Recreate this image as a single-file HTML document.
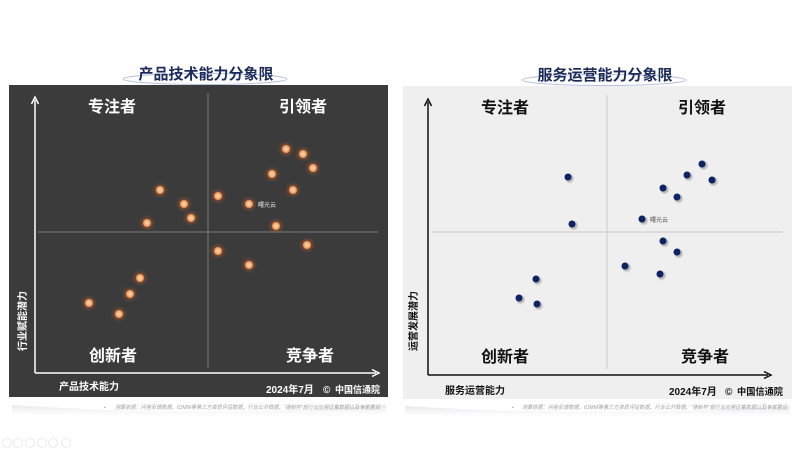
<!DOCTYPE html>
<html><head><meta charset="utf-8"><style>
html,body{margin:0;padding:0;background:#fff;}
svg{display:block;}
text{font-family:"Liberation Sans","Noto Sans CJK SC",sans-serif;}
</style></head><body>
<svg width="800" height="450" viewBox="0 0 800 450" xmlns="http://www.w3.org/2000/svg">
<defs>
<radialGradient id="og" cx="50%" cy="50%" r="50%">
<stop offset="0%" stop-color="#fde0c4"/>
<stop offset="60%" stop-color="#f6b07a"/>
<stop offset="100%" stop-color="#e8884a"/>
</radialGradient>
<filter id="blur" x="-1" y="-1" width="3" height="3"><feGaussianBlur stdDeviation="1.5"/></filter>
<filter id="blur2" x="-1" y="-1" width="3" height="3"><feGaussianBlur stdDeviation="0.9"/></filter>
<linearGradient id="sh" x1="0" y1="0" x2="0" y2="1">
<stop offset="0%" stop-color="#e6e6ea"/>
<stop offset="100%" stop-color="#ffffff" stop-opacity="0"/>
</linearGradient>
<g id="odot"><circle r="5.8" fill="#c8602a" opacity="0.5" filter="url(#blur)"/><circle r="4" fill="url(#og)"/></g>
<g id="ndot"><circle cx="1.5" cy="1.5" r="4" fill="#8a8a8a" opacity="0.6" filter="url(#blur2)"/><circle r="3.5" fill="#0e2361"/></g>
</defs>

<!-- shadows under panels -->
<path d="M12 405 Q200 418 386 405 L386 414 Q200 424 12 414Z" fill="url(#sh)"/>
<path d="M405 406 Q600 418 790 406 L790 415 Q600 424 405 415Z" fill="url(#sh)"/>

<!-- LEFT TITLE -->
<ellipse cx="205" cy="79" rx="82" ry="5.5" fill="none" stroke="#b4c2de" stroke-width="1"/>
<text x="206" y="79" font-size="15" font-weight="bold" fill="#1c2b5a" text-anchor="middle">产品技术能力分象限</text>

<!-- LEFT PANEL -->
<rect x="9" y="85" width="379" height="312" fill="#3b3b3b"/>
<line x1="208" y1="93" x2="208" y2="368" stroke="#7a7a7a" stroke-width="1"/>
<line x1="38" y1="232" x2="378" y2="232" stroke="#7a7a7a" stroke-width="1"/>
<line x1="35" y1="373" x2="35" y2="100" stroke="#fff" stroke-width="1.5"/>
<path d="M31.5 104 L35 97 L38.5 104" fill="none" stroke="#fff" stroke-width="1.5"/>
<line x1="35" y1="373" x2="376" y2="373" stroke="#fff" stroke-width="1.5"/>
<path d="M372 369.5 L379 373 L372 376.5" fill="none" stroke="#fff" stroke-width="1.5"/>
<g font-size="16" font-weight="bold" fill="#fff" text-anchor="middle">
<text x="112" y="112">专注者</text>
<text x="303" y="112">引领者</text>
<text x="113" y="361">创新者</text>
<text x="310" y="361">竞争者</text>
</g>
<text transform="translate(26,321) rotate(-90)" font-size="10" font-weight="bold" fill="#fff" text-anchor="middle">行业赋能潜力</text>
<text x="59" y="390" font-size="10" font-weight="bold" fill="#fff">产品技术能力</text>
<text x="266" y="393" font-size="10" font-weight="bold" fill="#fff">2024年7月</text>
<text x="323" y="393" font-size="10" font-weight="bold" fill="#fff">©</text>
<text x="335" y="393" font-size="9.5" font-weight="bold" fill="#fff" textLength="45" lengthAdjust="spacingAndGlyphs">中国信通院</text>

<use href="#odot" x="286" y="149"/>
<use href="#odot" x="303" y="154"/>
<use href="#odot" x="313" y="168"/>
<use href="#odot" x="272" y="174"/>
<use href="#odot" x="293" y="190"/>
<use href="#odot" x="160" y="190"/>
<use href="#odot" x="184" y="204"/>
<use href="#odot" x="191" y="218"/>
<use href="#odot" x="147" y="223"/>
<use href="#odot" x="218" y="196"/>
<use href="#odot" x="249" y="204"/>
<use href="#odot" x="276" y="226"/>
<use href="#odot" x="307" y="245"/>
<use href="#odot" x="218" y="251"/>
<use href="#odot" x="249" y="265"/>
<use href="#odot" x="140" y="278"/>
<use href="#odot" x="130" y="294"/>
<use href="#odot" x="89" y="303"/>
<use href="#odot" x="119" y="314"/>
<text x="258" y="207" font-size="6" fill="#e8e8e8">曙光云</text>

<text x="104" y="409" font-size="5" fill="#999">•</text>
<text x="115" y="409" font-size="5.5" font-style="italic" fill="#a0a0a0" textLength="265" lengthAdjust="spacingAndGlyphs">测算依据：问卷反馈数据、IOMM等第三方资质评估数据、行业公开数据、“德新杯”部行业应用征集数据以及专家意见</text>

<!-- RIGHT TITLE -->
<ellipse cx="604" cy="80" rx="82" ry="5.5" fill="none" stroke="#b4c2de" stroke-width="1"/>
<text x="605" y="80" font-size="15" font-weight="bold" fill="#1c2b5a" text-anchor="middle">服务运营能力分象限</text>

<!-- RIGHT PANEL -->
<rect x="403" y="86" width="389" height="313" fill="#efefef"/>
<line x1="607" y1="95" x2="607" y2="369" stroke="#c8c8c8" stroke-width="1"/>
<line x1="432" y1="232" x2="783" y2="232" stroke="#c8c8c8" stroke-width="1"/>
<line x1="428" y1="375" x2="428" y2="102" stroke="#111" stroke-width="1.5"/>
<path d="M424.5 106 L428 99 L431.5 106" fill="none" stroke="#111" stroke-width="1.5"/>
<line x1="428" y1="375" x2="768" y2="375" stroke="#111" stroke-width="1.5"/>
<path d="M764 371.5 L771 375 L764 378.5" fill="none" stroke="#111" stroke-width="1.5"/>
<g font-size="16" font-weight="bold" fill="#111" text-anchor="middle">
<text x="505" y="113">专注者</text>
<text x="702" y="113">引领者</text>
<text x="505" y="362">创新者</text>
<text x="705" y="362">竞争者</text>
</g>
<text transform="translate(417,321) rotate(-90)" font-size="10" font-weight="bold" fill="#111" text-anchor="middle">运营发展潜力</text>
<text x="445" y="394" font-size="10" font-weight="bold" fill="#111">服务运营能力</text>
<text x="669" y="395" font-size="10" font-weight="bold" fill="#111">2024年7月</text>
<text x="725" y="395" font-size="10" font-weight="bold" fill="#111">©</text>
<text x="737" y="395" font-size="9.5" font-weight="bold" fill="#111" textLength="46" lengthAdjust="spacingAndGlyphs">中国信通院</text>

<use href="#ndot" x="702" y="164"/>
<use href="#ndot" x="687" y="175"/>
<use href="#ndot" x="712" y="180"/>
<use href="#ndot" x="663" y="188"/>
<use href="#ndot" x="677" y="197"/>
<use href="#ndot" x="568" y="177"/>
<use href="#ndot" x="572" y="224"/>
<use href="#ndot" x="642" y="219"/>
<use href="#ndot" x="663" y="241"/>
<use href="#ndot" x="677" y="252"/>
<use href="#ndot" x="625" y="266"/>
<use href="#ndot" x="660" y="274"/>
<use href="#ndot" x="536" y="279"/>
<use href="#ndot" x="519" y="298"/>
<use href="#ndot" x="537" y="304"/>
<text x="650" y="222" font-size="6" fill="#555">曙光云</text>

<text x="512" y="409" font-size="5" fill="#999">•</text>
<text x="522" y="409" font-size="5.5" font-style="italic" fill="#a0a0a0" textLength="265" lengthAdjust="spacingAndGlyphs">测算依据：问卷反馈数据、IOMM等第三方资质评估数据、行业公开数据、“德新杯”部行业应用征集数据以及专家意见</text>

<!-- faint toolbar icons -->
<g fill="none" stroke="#e6e6e6" stroke-width="0.8">
<circle cx="7" cy="443" r="4.5"/>
<circle cx="18" cy="443" r="4.5"/>
<circle cx="30" cy="443" r="4.5"/>
<circle cx="42" cy="443" r="4.5"/>
<circle cx="53" cy="443" r="4.5"/>
<circle cx="66" cy="443" r="4.5"/>
</g>
</svg>
</body></html>
